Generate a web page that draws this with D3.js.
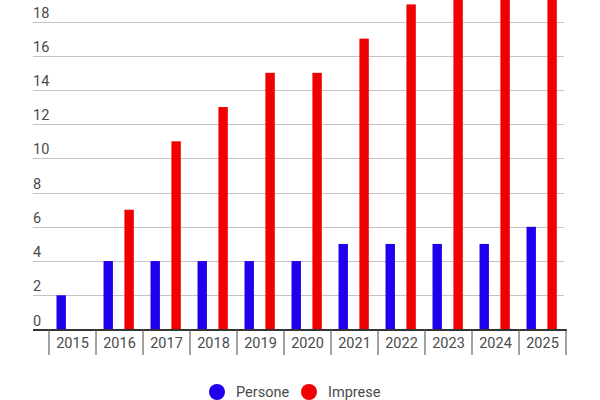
<!DOCTYPE html>
<html>
<head>
<meta charset="utf-8">
<script src="https://cdn.jsdelivr.net/npm/d3@7"></script>
<style>
    body { margin: 0; background: #fff; }
    text { font-family: Roboto, "Noto Sans", sans-serif; }
</style>
</head>
<body>
<div id="chart"></div>
<script>
// data
const years = ["2015", "2016", "2017", "2018", "2019", "2020", "2021", "2022", "2023", "2024", "2025"];
const persone = [2, 4, 4, 4, 4, 4, 5, 5, 5, 5, 6];
const imprese = [0, 7, 11, 13, 15, 15, 17, 19, 21, 22, 23];
const seriesNames = ["Persone", "Imprese"];
const yTicks = [0, 2, 4, 6, 8, 10, 12, 14, 16, 18];

const colors = { Persone: "#1e00ee", Imprese: "#f00000" };

const width = 600;
const height = 400;

const svg = d3.select("#chart")
    .append("svg")
    .attr("width", width)
    .attr("height", height);

const x = d3.scaleBand()
    .domain(years)
    .range([49, 566])
    .padding(0);

const x1 = d3.scaleBand()
    .domain(seriesNames)
    .range([0, x.bandwidth()])
    .paddingInner(0.55)
    .paddingOuter(0.4)
    .align(0.45);

const y = d3.scaleLinear()
    .domain([0, 18])
    .range([329.5, 21.5]);

// gridlines + y labels
const grid = svg.append("g");

grid.selectAll("line")
    .data(yTicks.filter(d => d > 0))
    .enter()
    .append("line")
    .attr("x1", 33)
    .attr("x2", 564)
    .attr("y1", d => Math.round(y(d)) + 0.5)
    .attr("y2", d => Math.round(y(d)) + 0.5)
    .attr("stroke", "#c4c4c4")
    .attr("stroke-width", 1);

grid.selectAll("text")
    .data(yTicks)
    .enter()
    .append("text")
    .attr("x", 33)
    .attr("y", d => y(d) - 4)
    .attr("fill", "#4a4a4a")
    .style("font-size", "14.5px")
    .text(d => d);

// bars
const rows = years.map((yr, i) => ({ year: yr, Persone: persone[i], Imprese: imprese[i] }));

svg.append("g")
    .selectAll("g")
    .data(rows)
    .enter()
    .append("g")
    .attr("transform", d => `translate(${x(d.year)},0)`)
    .selectAll("rect")
    .data(d => seriesNames.map(k => ({ key: k, value: d[k] })))
    .enter()
    .append("rect")
    .attr("x", d => x1(d.key))
    .attr("y", d => y(d.value))
    .attr("width", x1.bandwidth())
    .attr("height", d => y(0) - y(d.value))
    .attr("fill", d => colors[d.key]);

// x axis
svg.append("line")
    .attr("x1", 33)
    .attr("x2", 567)
    .attr("y1", 330)
    .attr("y2", 330)
    .attr("stroke", "#333")
    .attr("stroke-width", 2);

const xAxis = svg.append("g");

xAxis.selectAll("line")
    .data(years.concat(["end"]))
    .enter()
    .append("line")
    .attr("x1", d => d === "end" ? x.range()[1] : x(d))
    .attr("x2", d => d === "end" ? x.range()[1] : x(d))
    .attr("y1", 330)
    .attr("y2", 355)
    .attr("stroke", "#666")
    .attr("stroke-width", 1.2);

xAxis.selectAll("text")
    .data(years)
    .enter()
    .append("text")
    .attr("x", d => x(d) + x.bandwidth() / 2)
    .attr("y", 348)
    .attr("text-anchor", "middle")
    .attr("fill", "#4a4a4a")
    .style("font-size", "14.5px")
    .text(d => d);

// legend
const legendX = [217, 309];
const legend = svg.append("g");

legend.selectAll("circle")
    .data(seriesNames)
    .enter()
    .append("circle")
    .attr("cx", (d, i) => legendX[i])
    .attr("cy", 392)
    .attr("r", 8)
    .attr("fill", d => colors[d]);

legend.selectAll("text")
    .data(seriesNames)
    .enter()
    .append("text")
    .attr("x", (d, i) => legendX[i] + 19)
    .attr("y", 397)
    .attr("fill", "#4a4a4a")
    .style("font-size", "14.5px")
    .text(d => d);
</script>
</body>
</html>
